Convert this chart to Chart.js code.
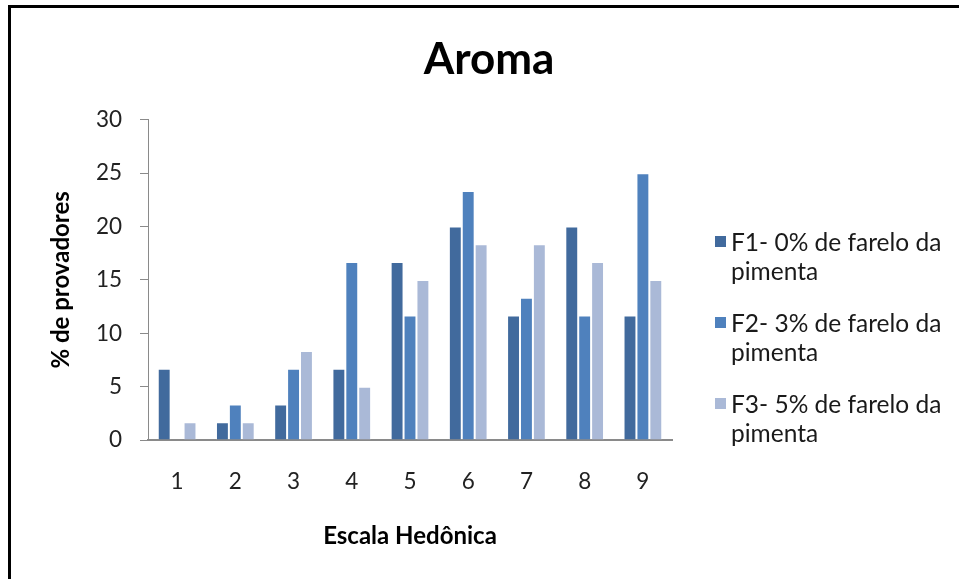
<!DOCTYPE html>
<html>
<head>
<meta charset="utf-8">
<script src="https://cdn.jsdelivr.net/npm/chart.js@4/dist/chart.umd.min.js"></script>
<style>
  html, body { margin:0; padding:0; background:#fff; }
  #wrap { position:relative; width:959px; height:579px; overflow:hidden; }
  #chart { position:absolute; left:0; top:0; }
  #frame { position:absolute; left:8px; top:5px; width:1200px; height:800px;
           border-left:3px solid #000; border-top:3px solid #000; box-sizing:border-box; pointer-events:none; }
  #legend { position:absolute; left:715px; top:227px; font-family:Lato, sans-serif; font-size:24.5px;
            line-height:29px; color:#1a1a1a; }
  #legend .item { position:relative; padding-left:16px; width:236px; margin-bottom:23px; }
  #legend .sw { position:absolute; left:0; top:9px; width:11px; height:11px; }
</style>
</head>
<body>
<div id="wrap">
  <canvas id="chart" width="959" height="579"></canvas>
  <div id="legend"></div>
  <div id="frame"></div>
</div>
<script>
// data
const categories = ['1','2','3','4','5','6','7','8','9'];
const seriesNames = ['F1- 0% de farelo da pimenta', 'F2- 3% de farelo da pimenta', 'F3- 5% de farelo da pimenta'];
const f1 = [6.67, 1.67, 3.33, 6.67, 16.67, 20, 11.67, 20, 11.67];
const f2 = [0, 3.33, 6.67, 16.67, 11.67, 23.33, 13.33, 11.67, 25];
const f3 = [1.67, 1.67, 8.33, 5, 15, 18.33, 18.33, 16.67, 15];
const colors = ['#416A9D', '#4F81BD', '#AAB9D7'];

(function(){
  const el = (id) => document.getElementById(id);
  const tickFont = { family:'Lato', size:22.5 };
  const axisTitleFont = { family:'Lato', size:24, weight:'bold' };

  const datasets = [f1, f2, f3].map((d, i) => ({
    label: seriesNames[i], data: d,
    backgroundColor: colors[i],
    borderColor: 'rgba(255,255,255,0.35)', borderWidth: 1,
    categoryPercentage: 0.665, barPercentage: 1.0
  }));

  new Chart(el('chart'), {
    type: 'bar',
    data: { labels: categories, datasets },
    options: {
      responsive:false, animation:false,
      layout: { padding: { left:19, right:0, top:0, bottom:0 } },
      plugins: {
        legend: { display:false },
        tooltip: { enabled:false },
        title: { display:true, text:'Aroma', color:'#000',
                 font:{ family:'Lato', size:44, weight:'bold' },
                 padding:{ top:33, bottom:34 } }
      },
      scales: {
        x: {
          grid: { display:false, drawTicks:false },
          border: { color:'#8a8a8a', width:2 },
          ticks: { font:tickFont, color:'#222', padding:28 },
          title: { display:true, text:'Escala Hedônica', color:'#000', font:axisTitleFont,
                   padding:{ top:0, bottom:28 } },
          afterFit(s){ s.height = 139; }
        },
        y: {
          min:0, max:30,
          ticks: { stepSize:5, font:tickFont, color:'#222', padding:18 },
          grid: { drawOnChartArea:false, drawTicks:true, tickLength:8, color:'#8a8a8a' },
          border: { color:'#8a8a8a' },
          title: { display:true, text:'% de provadores', color:'#000', font:axisTitleFont,
                   padding:{ top:28, bottom:0 } },
          afterFit(s){ s.width = 129; }
        },
        // empty right box that keeps room for the legend
        y2: {
          type:'linear', position:'right',
          grid:{ display:false }, border:{ display:false }, ticks:{ display:false },
          afterFit(s){ s.width = 287; }
        }
      }
    }
  });

  // legend as html, text wraps like the original
  const lg = el('legend');
  seriesNames.forEach((name, i) => {
    const it = document.createElement('div');
    it.className = 'item';
    const sw = document.createElement('span');
    sw.className = 'sw'; sw.style.background = colors[i];
    it.appendChild(sw);
    it.appendChild(document.createTextNode(name));
    lg.appendChild(it);
  });
})();
</script>
</body>
</html>
